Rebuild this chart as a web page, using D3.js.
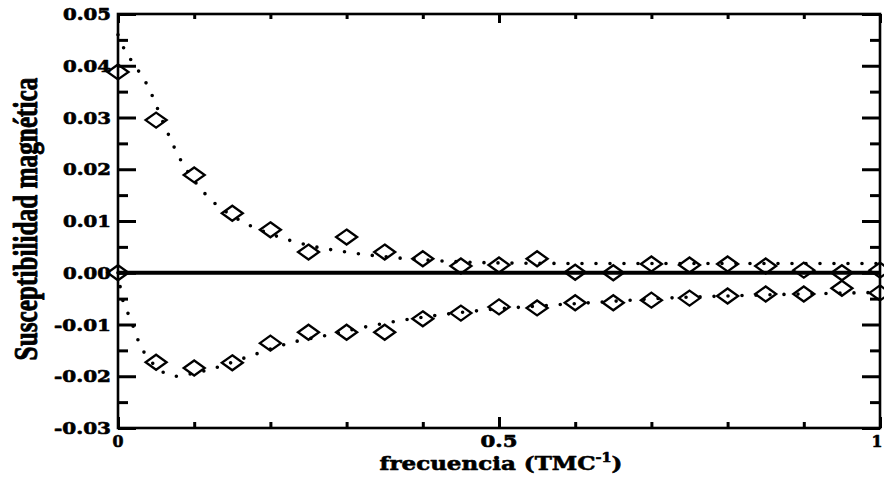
<!DOCTYPE html>
<html>
<head>
<meta charset="utf-8">
<script src="https://cdn.jsdelivr.net/npm/d3@7"></script>
<style>
    html, body { margin: 0; padding: 0; background: #fff; }
    #chart { width: 884px; height: 481px; }
</style>
</head>
<body>
<div id="chart"></div>
<script>
/******************************************************
 * Susceptibilidad magnetica vs frecuencia
*******************************************************/

//! DATA
const freq = [0, 0.05, 0.1, 0.15, 0.2, 0.25, 0.3, 0.35, 0.4, 0.45, 0.5,
              0.55, 0.6, 0.65, 0.7, 0.75, 0.8, 0.85, 0.9, 0.95, 1.0];
const suscUpper = [0.0388, 0.0295, 0.0189, 0.0115, 0.0083, 0.0040, 0.0069, 0.0040, 0.0027, 0.0013, 0.0015,
                   0.0027, 0.0001, 0.0000, 0.0017, 0.0015, 0.0017, 0.0013, 0.0005, 0.0000, 0.0005];
const suscLower = [0.0000, -0.0173, -0.0184, -0.0174, -0.0136, -0.0115, -0.0115, -0.0115, -0.0089, -0.0078, -0.0066,
                   -0.0068, -0.0058, -0.0058, -0.0053, -0.0049, -0.0045, -0.0041, -0.0041, -0.0030, -0.0039];

// fitted curves (dotted)
const fitUpperX = [0, 0.01, 0.02, 0.04, 0.06, 0.08, 0.1, 0.125, 0.15, 0.175, 0.2, 0.25,
                   0.3, 0.35, 0.4, 0.45, 0.5, 0.6, 0.7, 0.8, 0.9, 1.0];
const fitUpperY = [0.0460, 0.0427, 0.0405, 0.0358, 0.0288, 0.0224, 0.0178, 0.0137, 0.0110, 0.0090, 0.0075, 0.0053,
                   0.0040, 0.0031, 0.0025, 0.0021, 0.0019, 0.0018, 0.0018, 0.0018, 0.0018, 0.0018];
const fitLowerX = [0, 0.005, 0.013, 0.02, 0.029, 0.04, 0.06, 0.075, 0.09, 0.125, 0.175, 0.23,
                   0.27, 0.32, 0.36, 0.42, 0.475, 0.515, 0.575, 0.63, 0.72, 0.82, 0.93, 1.0];
const fitLowerY = [0.0000, -0.0045, -0.0078, -0.0104, -0.0140, -0.0165, -0.0193, -0.0200, -0.0197, -0.0185, -0.0160, -0.0134,
                   -0.0122, -0.0106, -0.0095, -0.0082, -0.0073, -0.0068, -0.0062, -0.0057, -0.0049, -0.0044, -0.0040, -0.0038];

const yTickValues = [0.05, 0.04, 0.03, 0.02, 0.01, 0.00, -0.01, -0.02, -0.03];
const yTickLabels = ["0.05", "0.04", "0.03", "0.02", "0.01", "0.00", "-0.01", "-0.02", "-0.03"];
const yMinorValues = [0.045, 0.035, 0.025, 0.015, 0.005, -0.005, -0.015, -0.025];
const xTickValues = [0, 0.5, 1];
const xTickLabels = ["0", "0.5", "1"];
const xMinorValues = [0.1, 0.2, 0.3, 0.4, 0.6, 0.7, 0.8, 0.9];

//! CONSTANTS
const WIDTH = 884;
const HEIGHT = 481;
const PLOT = { left: 118, right: 880, top: 14, bottom: 428 };
const FONT = "'Liberation Serif', 'Times New Roman', serif";
const WIDE_FONT = "'DejaVu Serif', 'Liberation Serif', serif";

/******************************************************
 * Stretch a text element horizontally (in its own
 * frame) so it is exactly `target` px long
*******************************************************/
function fitText(sel, x, y, target, rotate) {
    const w = sel.node().getBBox().width;
    const k = target / w;
    sel.attr("transform", `translate(${x},${y})` + (rotate ? ` rotate(${rotate})` : "") + ` scale(${k},1)`);
}

/******************************************************
 * Heavy bold text (scan looks very black)
*******************************************************/
function heavy(sel, family, size, sw) {
    return sel.attr("font-family", family)
        .attr("font-weight", "bold")
        .attr("font-size", size)
        .attr("fill", "#000")
        .attr("stroke", "#000")
        .attr("stroke-width", sw)
        .attr("stroke-linejoin", "round");
}

/******************************************************
 * Main draw
*******************************************************/
function draw() {
    const svg = d3.select("#chart").append("svg")
        .attr("width", WIDTH)
        .attr("height", HEIGHT)
        .style("background", "#fff");

    const x = d3.scaleLinear().domain([0, 1]).range([PLOT.left, PLOT.right]);
    const y = d3.scaleLinear().domain([-0.03, 0.05]).range([PLOT.bottom, PLOT.top]);

    // Zero line
    svg.append("line")
        .attr("x1", x(0)).attr("x2", x(1))
        .attr("y1", y(0)).attr("y2", y(0))
        .attr("stroke", "#000").attr("stroke-width", 4);

    // Dotted fitted curves
    const line = d3.line()
        .x(d => x(d[0]))
        .y(d => y(d[1]))
        .curve(d3.curveMonotoneX);

    [[fitUpperX, fitUpperY], [fitLowerX, fitLowerY]].forEach(([xs, ys]) => {
        svg.append("path")
            .datum(xs.map((v, i) => [v, ys[i]]))
            .attr("d", line)
            .attr("fill", "none")
            .attr("stroke", "#000")
            .attr("stroke-width", 3.6)
            .attr("stroke-linecap", "round")
            .attr("stroke-dasharray", "0 14");
    });

    // Diamonds
    const diamond = "M0,-7.5L10.5,0L0,7.5L-10.5,0Z";
    [suscUpper, suscLower].forEach(series => {
        svg.append("g").selectAll("path")
            .data(series)
            .enter().append("path")
            .attr("d", diamond)
            .attr("transform", (d, i) => `translate(${x(freq[i])},${y(d)})`)
            .attr("fill", "none")
            .attr("stroke", "#000")
            .attr("stroke-width", 2.3)
            .attr("stroke-linejoin", "miter");
    });

    // Frame
    svg.append("rect")
        .attr("x", PLOT.left).attr("y", PLOT.top)
        .attr("width", PLOT.right - PLOT.left)
        .attr("height", PLOT.bottom - PLOT.top)
        .attr("fill", "none")
        .attr("stroke", "#000")
        .attr("stroke-width", 2.6);

    // Axes (ticks inward, labels drawn separately)
    const tickStyle = g => g.call(s => s.select(".domain").remove())
        .selectAll("line").attr("stroke", "#000").attr("stroke-width", 3);

    svg.append("g").attr("transform", `translate(${PLOT.left},0)`)
        .call(d3.axisRight(y).tickValues(yTickValues).tickSize(18).tickFormat(""))
        .call(tickStyle);
    svg.append("g").attr("transform", `translate(${PLOT.left},0)`)
        .call(d3.axisRight(y).tickValues(yMinorValues).tickSize(10).tickFormat(""))
        .call(tickStyle);
    svg.append("g").attr("transform", `translate(${PLOT.right},0)`)
        .call(d3.axisLeft(y).tickValues(yTickValues).tickSize(18).tickFormat(""))
        .call(tickStyle);
    svg.append("g").attr("transform", `translate(${PLOT.right},0)`)
        .call(d3.axisLeft(y).tickValues(yMinorValues).tickSize(10).tickFormat(""))
        .call(tickStyle);

    svg.append("g").attr("transform", `translate(0,${PLOT.bottom})`)
        .call(d3.axisTop(x).tickValues(xTickValues).tickSize(11).tickFormat(""))
        .call(tickStyle);
    svg.append("g").attr("transform", `translate(0,${PLOT.bottom})`)
        .call(d3.axisTop(x).tickValues(xMinorValues).tickSize(6).tickFormat(""))
        .call(tickStyle);
    svg.append("g").attr("transform", `translate(0,${PLOT.top})`)
        .call(d3.axisBottom(x).tickValues(xTickValues).tickSize(9).tickFormat(""))
        .call(tickStyle);
    svg.append("g").attr("transform", `translate(0,${PLOT.top})`)
        .call(d3.axisBottom(x).tickValues(xMinorValues).tickSize(5).tickFormat(""))
        .call(tickStyle);

    // Y tick labels
    yTickValues.forEach((v, i) => {
        const t = heavy(svg.append("text"), WIDE_FONT, 16, 0.6)
            .attr("text-anchor", "end")
            .text(yTickLabels[i]);
        const target = yTickLabels[i].startsWith("-") ? 57 : 48;
        fitText(t, PLOT.left - 7, y(v) + 6, target);
    });

    // X tick labels
    xTickValues.forEach((v, i) => {
        const t = heavy(svg.append("text"), WIDE_FONT, 16, 0.6)
            .attr("text-anchor", "middle")
            .text(xTickLabels[i]);
        const target = xTickLabels[i].length === 3 ? 37 : 11;
        const xPos = i === xTickValues.length - 1 ? x(v) - 3 : x(v);
        fitText(t, xPos, 447, target);
    });

    // X title with superscript
    const xt = heavy(svg.append("text"), WIDE_FONT, 19, 0.6)
        .attr("text-anchor", "middle");
    xt.append("tspan").text("frecuencia (TMC");
    xt.append("tspan").attr("dy", -8).attr("font-size", 12).text("-1");
    xt.append("tspan").attr("dy", 8).text(")");
    fitText(xt, 501, 470, 243);

    // Y title
    const yt = heavy(svg.append("text"), FONT, 34, 0.9)
        .attr("text-anchor", "middle")
        .text("Susceptibilidad magnética");
    fitText(yt, 37, 219, 283, -90);
}

draw();
</script>
</body>
</html>
